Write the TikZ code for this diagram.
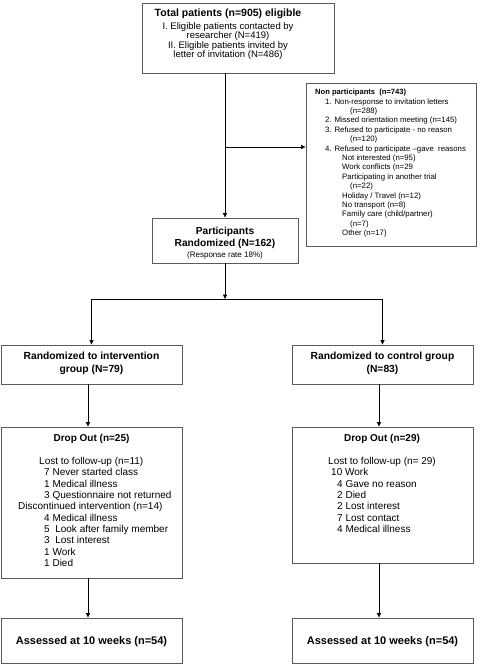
\documentclass[tikz,border=0pt]{standalone}
\usepackage{fontspec}
\setmainfont{Liberation Sans}
\usetikzlibrary{arrows.meta}
\definecolor{boxgray}{HTML}{5A5A5A}
\newcommand\fsz[1]{\fontsize{#1}{#1}\selectfont}
\begin{document}
\begin{tikzpicture}[x=1pt,y=-1pt,
  box/.style={draw=boxgray, line width=0.9pt, inner sep=0pt, fill=white},
  txt/.style={inner sep=0pt, text height=.72em, text depth=0pt},
  arr/.style={draw=black, line width=0.7pt, -{Triangle[length=4.5pt,width=4pt]}},
  ln/.style={draw=black, line width=0.7pt},
  ttl/.style={txt, font=\fsz{10.5}\bfseries},
  body/.style={txt, font=\fsz{9.5}},
  small/.style={txt, font=\fsz{7.8}},
  dtxt/.style={txt, font=\fsz{10}}
]
\useasboundingbox (0,0) rectangle (481,664);
\fill[white] (0,0) rectangle (481,664);

% boxes
\node[box, minimum width=192pt, minimum height=70pt] (top) at (238,38) {};
\node[box, minimum width=170pt, minimum height=163pt] (np) at (391,164.5) {};
\node[box, minimum width=146pt, minimum height=45pt] (pbox) at (225,240.5) {};
\node[box, minimum width=181pt, minimum height=39pt] (int) at (91.5,364.5) {};
\node[box, minimum width=181pt, minimum height=39pt] (ctl) at (382.5,364.5) {};
\node[box, minimum width=181pt, minimum height=151pt] (dropA) at (91.5,502.5) {};
\node[box, minimum width=181pt, minimum height=136pt] (dropB) at (382.5,495) {};
\node[box, minimum width=181pt, minimum height=45pt] (assA) at (91.5,640.5) {};
\node[box, minimum width=181pt, minimum height=45pt] (assB) at (382.5,640.5) {};

% top box text
\node[ttl] (t0) at (228,13) {Total patients (n=905) eligible};
\node[body] (t1) at (228,25.5) {I. Eligible patients contacted by};
\node[body] (t2) at (228,35) {researcher (N=419)};
\node[body] (t3) at (228,44.5) {II. Eligible patients invited by};
\node[body] (t4) at (228,54) {letter of invitation (N=486)};

% non participants text
\node[txt, font=\fsz{7.6}\bfseries, anchor=west] (np0) at (315,91) {Non participants\ \ (n=743)};
\foreach \x/\k/\t [count=\i] in {
  325/1/{1. Non-response to invitation letters},
  350/2/{(n=288)},
  325/3/{2. Missed orientation meeting (n=145)},
  325/4/{3. Refused to participate - no reason},
  350/5/{(n=120)},
  325/6/{4. Refused to participate –gave\ \ reasons},
  342/7/{Not interested (n=95)},
  342/8/{Work conflicts (n=29},
  342/9/{Participating in another trial},
  350/10/{(n=22)},
  342/11/{Holiday / Travel (n=12)},
  342/12/{No transport (n=8)},
  342/13/{Family care (child/partner)},
  350/14/{(n=7)},
  342/15/{Other (n=17)}}
  \node[small, anchor=west] (np\i) at (\x,91+9.4*\k) {\t};

% participants
\node[txt, font=\fsz{10.2}\bfseries] (p1) at (225,231) {Participants};
\node[txt, font=\fsz{10.2}\bfseries] (p2) at (225,243) {Randomized (N=162)};
\node[txt, font=\fsz{8}] (p3) at (225,254) {(Response rate 18\%)};

% randomized
\node[txt, font=\fsz{10.3}\bfseries] (i1) at (91.5,356) {Randomized to intervention};
\node[txt, font=\fsz{10.3}\bfseries] (i2) at (91.5,369) {group (N=79)};
\node[txt, font=\fsz{10.3}\bfseries] (c1) at (382.5,356) {Randomized to control group};
\node[txt, font=\fsz{10.3}\bfseries] (c2) at (382.5,369) {(N=83)};

% drop out A
\node[txt, font=\fsz{10}\bfseries] (a0) at (91.5,438) {Drop Out (n=25)};
\foreach \x/\k/\t [count=\i] in {
  39/0/{Lost to follow-up (n=11)},
  44/1/{7 Never started class},
  44/2/{1 Medical illness},
  44/3/{3 Questionnaire not returned},
  18/4/{Discontinued intervention (n=14)},
  44/5/{4 Medical illness},
  44/6/{5\ \ Look after family member},
  44/7/{3\ \ Lost interest},
  44/8/{1 Work},
  44/9/{1 Died}}
  \node[dtxt, anchor=west] (a\i) at (\x,461+11.3*\k) {\t};

% drop out B
\node[txt, font=\fsz{10}\bfseries] (b0) at (382,438) {Drop Out (n=29)};
\foreach \x/\k/\t [count=\i] in {
  328/0/{Lost to follow-up (n= 29)},
  331/1/{10 Work},
  337/2/{4 Gave no reason},
  337/3/{2 Died},
  337/4/{2 Lost interest},
  337/5/{7 Lost contact},
  337/6/{4 Medical illness}}
  \node[dtxt, anchor=west] (b\i) at (\x,461+11.3*\k) {\t};

% assessed
\node[txt, font=\fsz{11}\bfseries] (sa) at (91.5,640.5) {Assessed at 10 weeks (n=54)};
\node[txt, font=\fsz{11}\bfseries] (sb) at (382.5,640.5) {Assessed at 10 weeks (n=54)};

% connectors
\coordinate (br) at (225,147);
\coordinate (split) at (225,299);
\draw[arr] (pbox.north |- top.south) -- (pbox.north);
\draw[arr] (br) -- (br -| np.west);
\draw[arr] (pbox.south) -- (split);
\draw[ln] (split -| int.north) -- (split -| ctl.north);
\draw[arr] (split -| int.north) -- (int.north);
\draw[arr] (split -| ctl.north) -- (ctl.north);
\draw[arr] ([xshift=-3.5pt]int.south) -- ([xshift=-3.5pt]dropA.north);
\draw[arr] ([xshift=-3.5pt]ctl.south) -- ([xshift=-3.5pt]dropB.north);
\draw[arr] ([xshift=-3.5pt]dropA.south) -- ([xshift=-3.5pt]assA.north);
\draw[arr] ([xshift=-3.5pt]dropB.south) -- ([xshift=-3.5pt]assB.north);
\end{tikzpicture}
\end{document}
